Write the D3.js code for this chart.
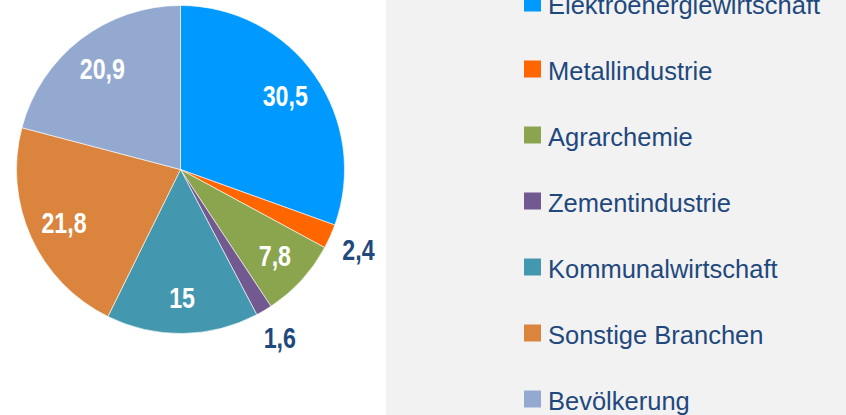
<!DOCTYPE html>
<html>
<head>
<meta charset="utf-8">
<script src="https://cdn.jsdelivr.net/npm/d3@7"></script>
<style>
  body { margin: 0; background: #fff; }
  svg { display: block; }
</style>
</head>
<body>
<svg id="pie_chart" width="846" height="415"></svg>
<script>
const CATEGORIES = ["Elektroenergiewirtschaft", "Metallindustrie", "Agrarchemie", "Zementindustrie",
    "Kommunalwirtschaft", "Sonstige Branchen", "Bevölkerung"]
const VALUES = [30.5, 2.4, 7.8, 1.6, 15, 21.8, 20.9]
const VALUE_LABELS = ["30,5", "2,4", "7,8", "1,6", "15", "21,8", "20,9"]
const SLICE_COLORS = ["#0099ff", "#ff6600", "#8aa54e", "#72598f", "#4398af", "#db843d", "#93a9cf"]

var svg = d3.select("svg#pie_chart");
const width = +svg.attr("width");
const height = +svg.attr("height");

// grey panel behind legend
svg.append("rect")
    .attr("x", 386).attr("y", 0)
    .attr("width", width - 386).attr("height", height)
    .attr("fill", "#f2f2f2");

const radius = 164;
const center = [180.5, 169.5];

var data = CATEGORIES.map((c, i) => ({"name": c, "value": VALUES[i], "label": VALUE_LABELS[i], "color": SLICE_COLORS[i]}));

var pie = d3.pie().sort(null).value(d => d.value);
var arc = d3.arc().innerRadius(0).outerRadius(radius);
var inner_label_arc = d3.arc().innerRadius(128).outerRadius(128);
var outer_label_arc = d3.arc().innerRadius(195).outerRadius(195);

const g = svg.append("g").attr("transform", "translate(" + center[0] + "," + center[1] + ")");
var arcs = pie(data);

g.selectAll("path")
    .data(arcs)
    .join("path")
    .attr("d", arc)
    .attr("fill", d => d.data.color)
    .attr("stroke", "#ffffff")
    .attr("stroke-width", 0.6);

// small slices get their label outside the pie; no narrow font installed, so squeeze it
g.selectAll("text")
    .data(arcs)
    .join("text")
    .attr("transform", function (d) {
        var p = d.data.value < 5 ? outer_label_arc.centroid(d) : inner_label_arc.centroid(d);
        return "translate(" + p[0] + "," + p[1] + ") scale(0.8,1)";
    })
    .attr("text-anchor", "middle")
    .attr("dy", "0.36em")
    .style("font-family", "'Liberation Sans', Arial, sans-serif")
    .style("font-weight", "bold")
    .style("font-size", "29px")
    .attr("fill", d => d.data.value < 5 ? "#1f497d" : "#ffffff")
    .text(d => d.data.label);

// legend
const LEGEND_TOP = 3;
const LEGEND_STEP = 66;
var legend = svg.append("g");
data.forEach(function (d, i) {
    var y = LEGEND_TOP + i * LEGEND_STEP;
    legend.append("rect")
        .attr("x", 524).attr("y", y - 8.5)
        .attr("width", 17).attr("height", 17)
        .attr("fill", d.color);
    legend.append("text")
        .attr("x", 548).attr("y", y + 10.5)
        .style("font-family", "'Liberation Sans', Arial, sans-serif")
        .style("font-size", "25.5px")
        .attr("fill", "#1f497d")
        .text(d.name);
});
</script>
</body>
</html>
